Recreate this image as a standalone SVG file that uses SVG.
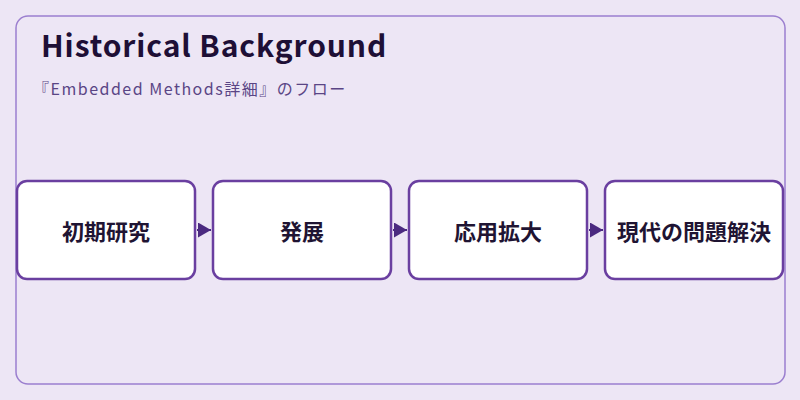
<svg xmlns="http://www.w3.org/2000/svg" width="800" height="400" viewBox="0 0 800 400">
<style>
.node rect{fill:#ffffff;stroke:#6a3fa0;stroke-width:2.5}
.node text{font-family:"Noto Sans CJK JP","Noto Sans",sans-serif;font-size:22px;font-weight:700;fill:#1f1433;text-anchor:middle;dominant-baseline:central}
.conn line{stroke:#4b2a80;stroke-width:2}
</style>
<defs>
<marker id="arr" viewBox="0 0 10 10" refX="10" refY="5" markerWidth="13" markerHeight="15" markerUnits="userSpaceOnUse" orient="auto" preserveAspectRatio="none">
<path d="M0,0 L10,5 L0,10 Z" fill="#4b2a80"/>
</marker>
</defs>
<rect x="0" y="0" width="800" height="400" fill="#ede6f5"/>
<rect x="16" y="16" width="769" height="368" rx="12" fill="#ede6f5" stroke="#9b7fcf" stroke-width="1.5"/>
<text x="41" y="57" font-family="'Noto Sans CJK JP','Noto Sans',sans-serif" font-size="30" font-weight="700" letter-spacing="0.9" fill="#1e0f36">Historical Background</text>
<text x="33" y="95" font-family="'Noto Sans CJK JP','Noto Sans',sans-serif" font-size="16" letter-spacing="1.5" fill="#5a4585">『Embedded Methods詳細』のフロー</text>
<g class="conn">
<line x1="197" y1="230" x2="211" y2="230" marker-end="url(#arr)"/>
<line x1="393" y1="230" x2="407" y2="230" marker-end="url(#arr)"/>
<line x1="589" y1="230" x2="603" y2="230" marker-end="url(#arr)"/>
</g>
<g id="node1" class="node"><rect x="17" y="181" width="178" height="98" rx="10"/><text x="106" y="230">初期研究</text></g>
<g id="node2" class="node"><rect x="213" y="181" width="178" height="98" rx="10"/><text x="302" y="230">発展</text></g>
<g id="node3" class="node"><rect x="409" y="181" width="178" height="98" rx="10"/><text x="498" y="230">応用拡大</text></g>
<g id="node4" class="node"><rect x="605" y="181" width="178" height="98" rx="10"/><text x="694" y="230">現代の問題解決</text></g>
</svg>
